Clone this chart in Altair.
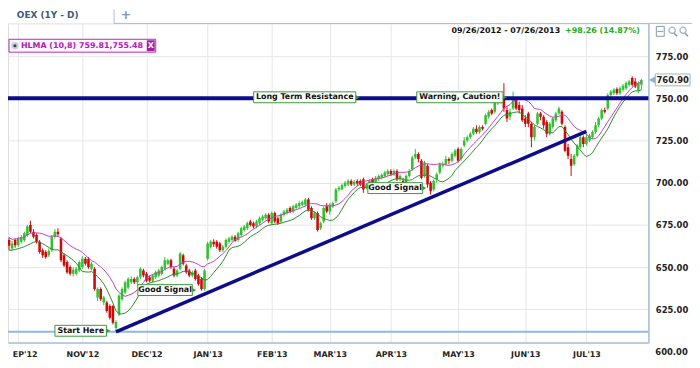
import json
import altair as alt
import pandas as pd

# ---------------- data ----------------
opens = [666, 661, 666, 663, 665, 666, 669, 675, 671, 669, 665, 660, 659, 657, 660, 668, 671, 667, 657, 653,
         650, 646, 646, 648, 650, 655, 655, 649, 649, 632, 637, 629, 629, 627, 627, 614, 622, 631, 635, 638,
         641, 643, 641, 644, 648, 646, 644, 642, 644, 645, 646, 649, 652, 654, 649, 645, 649, 657, 651, 648,
         645, 648, 645, 643, 637, 655, 662, 665, 665, 664, 660, 662, 665, 666, 668, 666, 669, 672, 673, 677,
         676, 674, 676, 678, 679, 681, 676, 682, 679, 677, 681, 682, 685, 683, 685, 686, 687, 687, 690, 685,
         679, 682, 673, 677, 686, 683, 686, 689, 696, 696, 698, 699, 701, 699, 701, 701, 702, 697, 699, 702,
         700, 702, 703, 704, 705, 707, 705, 707, 702, 701, 700, 704, 708, 715, 717, 713, 704, 710, 700, 696,
         702, 706, 710, 711, 714, 713, 716, 720, 714, 722, 725, 727, 729, 732, 730, 733, 735, 739, 743, 742,
         747, 751, 751, 743, 739, 744, 749, 746, 744, 738, 741, 735, 727, 735, 741, 739, 736, 729, 733, 737,
         741, 742, 733, 721, 714, 711, 716, 721, 727, 723, 725, 727, 730, 734, 738, 743, 744, 752, 753, 755.5,
         753, 755, 756, 758, 762, 760, 755, 758]
highs = [667.5, 665.5, 667, 668, 669, 671, 675, 677.5, 672.5, 670, 666, 661, 660, 661, 669, 672.5, 673, 668, 658, 654,
         651, 650, 650, 654, 656.5, 656, 656, 653, 650, 638, 638, 633, 630, 628, 627.5, 618.5, 634, 638, 642, 644,
         644.5, 644, 645, 650, 649, 647, 645, 646, 648, 649, 651, 656, 655, 655, 650, 649, 659, 658, 652, 649,
         648, 649, 646, 644, 649, 665, 666, 666.5, 666, 665, 663, 667, 668, 669, 669, 671, 674, 675, 677, 678,
         677, 678, 680, 681, 682, 682, 683, 683, 680, 682, 684, 685, 686, 687, 688, 689, 689.5, 691, 691, 686,
         683, 683, 677, 686, 688, 688, 689, 697, 698, 699.5, 701, 702, 702, 701.5, 702, 702, 703, 700, 702, 703,
         704, 705, 705.5, 707, 708, 708, 708, 708, 705, 703, 705, 708, 716, 720, 718, 714, 713, 711, 701, 702,
         706, 712, 712.5, 716, 715, 718, 720, 721, 721, 727, 728, 730, 733, 734, 734, 734, 741, 743, 744, 749,
         751, 753, 759, 745, 744, 754, 750, 748, 746, 740, 742, 736, 734, 742, 742, 740, 737, 736, 739, 742,
         745, 743, 734, 723, 717, 717, 723, 728, 728, 729, 729, 731, 736, 739, 744, 744.5, 753, 755, 756, 756.5,
         757, 758.5, 760, 761, 763, 762, 760, 761.5]
lows = [660, 660, 661.5, 662, 664, 665, 668, 670, 667, 664, 658, 655.5, 655, 656, 659, 667, 668, 653, 650, 646,
        645, 644.5, 645, 647, 649, 651, 649, 648, 636, 630, 630, 627.5, 623, 619, 616, 612, 621, 630, 634, 637,
        640, 640, 639, 643, 644, 641, 641, 641, 643, 644, 645, 648, 651, 649, 644, 644, 648, 651, 646, 644,
        644, 642, 639, 636, 636, 654, 661, 662, 661, 659, 659, 661, 664, 665, 665, 665, 668, 671, 672, 674,
        673, 673, 675, 677, 678, 676, 675, 676, 675, 676, 680, 681, 682, 682, 684, 685, 686, 686, 683, 678,
        678, 671, 672, 676, 682, 681, 685, 688, 695, 695.5, 697, 698, 698, 698, 698, 698, 694, 696, 698, 699,
        699, 701, 702, 703, 704, 704, 704, 701, 701, 696, 699, 703, 707, 714, 712, 702, 703, 697, 693, 695,
        700, 705, 709, 710, 711, 712, 715, 712, 713, 721, 724, 726, 728, 729, 729, 731, 734, 738, 740, 741,
        746, 747, 742, 736, 737, 743, 743, 741, 736, 733, 733, 721, 725, 734, 737, 732, 727, 728, 732, 736,
        740, 734, 718, 714, 704, 710, 715, 720, 721, 722, 724, 726, 729, 733, 737, 741, 743, 751, 752, 752,
        752, 754, 755, 757, 757, 756, 753, 755]
closes = [662.6, 664, 663, 667, 667.5, 670, 674, 671, 668, 665, 659, 657, 656, 659.5, 668, 671, 669.5, 654, 651, 647,
          646, 648.5, 649, 653, 655, 652, 650, 652, 637, 637, 631, 632, 624, 620, 617, 617.5, 633, 637, 641, 643,
          643, 641, 644, 649, 645, 642, 642, 645, 647, 648, 650, 654, 654, 650, 645, 648, 658, 652, 647, 645,
          647, 643, 640, 637, 648, 664, 665, 663.5, 662, 660, 662, 666, 667, 668, 665.5, 670, 673, 674, 676, 675,
          674, 677, 679, 680, 681, 677, 682, 677, 676, 681, 683, 684, 683, 686, 687, 688, 688.5, 690, 684, 679,
          682, 672, 676, 685, 683, 687, 688, 696, 697, 698.5, 700, 701, 699, 700.5, 699.5, 699, 696, 699, 701, 700,
          703, 704, 704.5, 706, 707, 705, 707, 702, 704, 700, 704, 707, 715, 717, 714, 703, 712, 699, 695, 701,
          705, 711, 711, 714, 713, 717, 719, 713, 720, 725, 727, 729, 732, 730, 733, 732, 740, 742, 741, 748,
          750, 749, 744, 738, 742, 749, 744, 743, 737, 735, 735, 727, 733, 741, 739, 734, 729, 735, 738, 741,
          744, 735, 719, 716, 710, 716, 722, 727, 723, 727, 728, 730, 734, 738, 743, 742, 752, 754, 755, 753,
          756, 757.5, 759, 760, 758, 757, 759, 760.9]
days = list(range(len(closes)))

month_ticks = [3, 24, 45, 65, 86, 105, 125, 147, 169, 189]
month_labels = ["EP'12", "NOV'12", "DEC'12", "JAN'13", "FEB'13", "MAR'13",
                "APR'13", "MAY'13", "JUN'13", "JUL'13"]
price_ticks = [600, 625, 650, 675, 700, 725, 750, 775]

resistance = [750]
support = [611.7]
trend_days = [35, 189]
trend_prices = [611.7, 730.4]

notes = ["Start Here", "Good Signal", "Good Signal", "Long Term Resistance", "Warning, Caution!"]
note_days = [33.2, 61.3, 136.6, 114.8, 163.0]
note_prices = [612.3, 636.4, 696.8, 750.6, 750.6]

# ---------------- styling ----------------
FONT = "DejaVu Sans"
UP, DOWN = "#33c133", "#cc0a0a"
NAVY = "#0d0d8c"
MAGENTA = "#c040c0"
NOTE_W = [52, 55, 55, 103, 87]

xs = alt.Scale(domain=[1.28, 207.67], nice=False, zero=False)
ys = alt.Scale(domain=[605.28, 794.36], nice=False, zero=False)

df = pd.DataFrame({"i": days, "o": opens, "h": highs, "l": lows, "c": closes})

label_expr = f"{json.dumps(month_labels)}[indexof({json.dumps(month_ticks)}, datum.value)]"
x_axis = alt.Axis(values=month_ticks, labelExpr=label_expr, title=None, grid=True,
                  gridColor="#e6e6e6", ticks=False, domainColor="#a9c1d9", domainWidth=1.5,
                  labelFont=FONT, labelFontSize=8, labelFontWeight="bold", labelColor="#222222",
                  labelPadding=8,
                  labelAlign={"condition": {"test": "datum.value < 10", "value": "left"}, "value": "center"},
                  labelOffset={"condition": {"test": "datum.value < 10", "value": -6}, "value": 0})
y_axis = alt.Axis(orient="right", values=price_ticks, format=".2f", title=None, grid=True,
                  gridColor="#e6e6e6",
                  gridOpacity={"condition": {"test": "datum.value < 610", "value": 0}, "value": 1},
                  ticks=False, domainColor="#a9c1d9", domainWidth=1.5,
                  labelFont=FONT, labelFontSize=8.5, labelFontWeight="bold", labelColor="#222222",
                  labelPadding=7)

col = alt.condition("datum.c >= datum.o", alt.value(UP), alt.value(DOWN))

wicks = alt.Chart(df).mark_rule(strokeWidth=1, clip=True).encode(
    x=alt.X("i:Q", scale=xs, axis=x_axis),
    y=alt.Y("l:Q", scale=ys, axis=y_axis),
    y2="h:Q", color=col)
bodies = alt.Chart(df).mark_bar(size=2.6, clip=True).encode(
    x="i:Q", y="o:Q", y2="c:Q", color=col)

ma = alt.Chart(df).transform_window(
    hma="mean(h)", frame=[-9, 0], sort=[alt.SortField("i")]
).transform_window(
    lma="mean(l)", frame=[-7, 0], sort=[alt.SortField("i")])
ma_hi = ma.mark_line(color=MAGENTA, strokeWidth=1, clip=True).encode(x="i:Q", y="hma:Q")
ma_lo = ma.mark_line(color="#2f8a2f", strokeWidth=1, clip=True).encode(x="i:Q", y="lma:Q")

res_line = alt.Chart(pd.DataFrame({"v": resistance})).mark_rule(color=NAVY, strokeWidth=4).encode(y="v:Q")
sup_line = alt.Chart(pd.DataFrame({"v": support})).mark_rule(color="#8fb4ee", strokeWidth=2).encode(y="v:Q")
trend = alt.Chart(pd.DataFrame({"x": [trend_days[0]], "x2": [trend_days[1]],
                                "y": [trend_prices[0]], "y2": [trend_prices[1]]})).mark_rule(
    color=NAVY, strokeWidth=3.5).encode(x="x:Q", x2="x2:Q", y="y:Q", y2="y2:Q")

# price label that sits below the plot frame (600.00)
low_tick = alt.Chart(pd.DataFrame({"v": [price_ticks[0]]})).mark_text(
    font=FONT, fontSize=8.5, fontWeight="bold", color="#222222", align="left").encode(
    x=alt.value(653), y=alt.Y("v:Q"), text=alt.Text("v:Q", format=".2f"))


def note_layer(k):
    d = pd.DataFrame({"label": [notes[k]], "day": [note_days[k]], "price": [note_prices[k]]})
    w = NOTE_W[k]
    base = alt.Chart(d)
    box = base.mark_rect(width=w, height=11, fill="#ffffff", stroke="#3a9a3a", strokeWidth=1,
                         xOffset=-w / 2 - 4).encode(x="day:Q", y="price:Q")
    arrow = base.mark_point(shape="triangle-right", size=18, filled=True, color="#3a9a3a",
                            xOffset=-2, opacity=1).encode(x="day:Q", y="price:Q")
    txt = base.mark_text(font=FONT, fontSize=8, fontWeight="bold", color="#111111",
                         xOffset=-w / 2 - 4).encode(x="day:Q", y="price:Q", text="label:N")
    return box + arrow + txt


notes_layers = [note_layer(k) for k in range(len(notes))]

# header / chrome
one = pd.DataFrame({"a": [0]})
hdr = alt.Chart(one)
tab_edge = hdr.mark_rule(color="#a8bccf").encode(x=alt.value(107), y=alt.value(-14), y2=alt.value(0))
tab_line = hdr.mark_rule(color="#a8bccf").encode(x=alt.value(107), x2=alt.value(690), y=alt.value(0))
tab_txt = hdr.mark_text(text="OEX (1Y - D)", font=FONT, fontSize=9, fontWeight="bold",
                        color="#3d5a80").encode(x=alt.value(40), y=alt.value(-8))
plus_txt = hdr.mark_text(text="+", font=FONT, fontSize=13, fontWeight="bold",
                         color="#7a9abf").encode(x=alt.value(119), y=alt.value(-8))
date_txt = hdr.mark_text(text="09/26/2012 - 07/26/2013", font=FONT, fontSize=8, fontWeight="bold",
                         color="#111111", align="right").encode(x=alt.value(557), y=alt.value(8))
chg_txt = hdr.mark_text(text="+98.26 (14.87%)", font=FONT, fontSize=8, fontWeight="bold",
                        color="#22aa22", align="left").encode(x=alt.value(562), y=alt.value(8))
icon_box = hdr.mark_rect(fill="white", stroke="#8197b0").encode(
    x=alt.value(654), x2=alt.value(662), y=alt.value(3), y2=alt.value(13))
icon_minus = hdr.mark_rule(color="#8197b0").encode(x=alt.value(655), x2=alt.value(661), y=alt.value(8))
mag1 = hdr.mark_point(shape="circle", size=40, color="#8197b0", strokeWidth=1.3).encode(
    x=alt.value(670), y=alt.value(7))
mag2 = hdr.mark_point(shape="circle", size=40, color="#8197b0", strokeWidth=1.3).encode(
    x=alt.value(681), y=alt.value(7))
mag1h = hdr.mark_rule(color="#8197b0", strokeWidth=1.5).encode(
    x=alt.value(672), x2=alt.value(675), y=alt.value(10), y2=alt.value(13))
mag2h = hdr.mark_rule(color="#8197b0", strokeWidth=1.5).encode(
    x=alt.value(683), x2=alt.value(686), y=alt.value(10), y2=alt.value(13))

leg_box = hdr.mark_rect(fill="#fdf6fd", stroke="#b030b0").encode(
    x=alt.value(1), x2=alt.value(149), y=alt.value(16), y2=alt.value(29))
leg_dot_o = hdr.mark_point(shape="circle", size=55, filled=True, color="#c5cfdc", opacity=1).encode(
    x=alt.value(7), y=alt.value(22.5))
leg_dot_i = hdr.mark_point(shape="circle", size=10, filled=True, color="#334455", opacity=1).encode(
    x=alt.value(7), y=alt.value(22.5))
leg_txt = hdr.mark_text(text="HLMA (10,8) 759.81,755.48", font=FONT, fontSize=8, fontWeight="bold",
                        color="#b020b0", align="left").encode(x=alt.value(13), y=alt.value(22.5))
leg_x = hdr.mark_rect(fill="#a020a0").encode(
    x=alt.value(140), x2=alt.value(148), y=alt.value(17), y2=alt.value(28))
leg_xt = hdr.mark_text(text="X", font=FONT, fontSize=8, fontWeight="bold", color="white").encode(
    x=alt.value(144), y=alt.value(22.5))

last = pd.DataFrame({"p": [closes[-1]]})
tag_arrow = alt.Chart(last).mark_point(shape="triangle-left", size=60, filled=True, color="#8fb0cc",
                                       opacity=1).encode(x=alt.value(650), y="p:Q")
tag_box = alt.Chart(last).mark_rect(height=12, fill="white", stroke="#9fb3c6").encode(
    x=alt.value(653), x2=alt.value(688), y="p:Q")
tag_txt = alt.Chart(last).mark_text(font=FONT, fontSize=8.5, fontWeight="bold", color="#222222").encode(
    x=alt.value(670.5), y="p:Q", text=alt.Text("p:Q", format=".2f"))

chart = alt.layer(
    wicks, bodies, ma_hi, ma_lo, sup_line, res_line, trend, *notes_layers, low_tick,
    tab_edge, tab_line, tab_txt, plus_txt, date_txt, chg_txt,
    icon_box, icon_minus, mag1, mag2, mag1h, mag2h,
    leg_box, leg_dot_o, leg_dot_i, leg_txt, leg_x, leg_xt,
    tag_arrow, tag_box, tag_txt
).properties(
    width=646, height=322, autosize="none",
    padding={"left": 0, "top": 14, "right": 44, "bottom": 18}
).configure_view(stroke=None).configure(background="white")

chart.save("out.html", embed_options={"renderer": "svg", "actions": False})
